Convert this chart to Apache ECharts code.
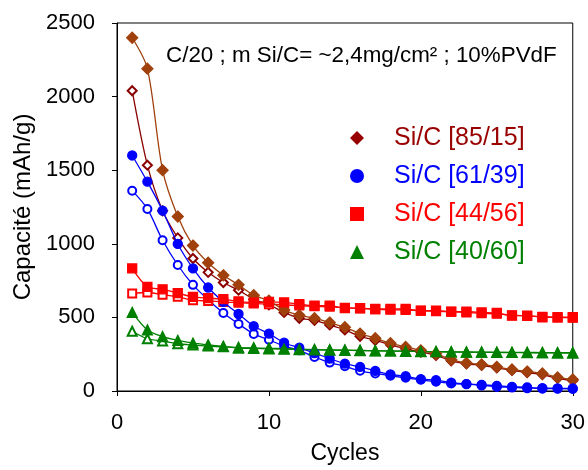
<!DOCTYPE html>
<html><head><meta charset="utf-8">
<script src="https://cdn.jsdelivr.net/npm/echarts@6/dist/echarts.min.js"></script>
<style>html,body{margin:0;padding:0;background:#fff}#c{width:588px;height:470px}</style>
</head><body><div id="c"></div>
<script>
var cycles = [1,2,3,4,5,6,7,8,9,10,11,12,13,14,15,16,17,18,19,20,21,22,23,24,25,26,27,28,29,30];
var sc8515Filled = [2400,2190,1500,1185,988,871,786,721,651,613,550,515,495,465,433,390,359,325,299,276,253,213,191,180,164,146,132,119,92,78];
var sc8515Open = [2040,1534,1224,1040,900,806,737,685,624,586,534,494,480,449,415,372,344,314,287,265,242,205,185,175,158,140,125,112,86,70];
var sc6139Filled = [1600,1422,1225,999,833,703,605,523,440,390,328,294,258,220,186,164,137,112,101,81,74,56,47,39,29,25,20,20,18,18];
var sc6139Open = [1361,1237,1024,856,721,620,530,456,388,348,305,276,231,193,168,137,119,103,90,76,63,51,47,42,36,29,25,16,16,13];
var sc4456Filled = [833,708,691,665,640,631,624,609,600,606,602,590,580,580,563,563,557,557,557,546,546,539,539,534,530,512,512,501,501,501];
var sc4456Open = [662,669,654,640,617,612,605,600,595,590,585,580,575,572,565,560,555,552,550,545,542,538,533,528,524,515,510,505,500,498];
var sc4060Filled = [534,415,370,344,325,314,303,292,290,287,285,282,280,278,277,275,273,272,270,268,267,266,265,264,263,262,262,261,260,260];
var sc4060Open = [406,355,339,321,312,305,300,295,292,290,287,284,281,279,277,275,273,271,270,268,267,265,264,263,262,261,260,260,259,258];
var legendNames = ['Si/C [85/15]','Si/C [61/39]','Si/C [44/56]','Si/C [40/60]'];
var titleText = 'C/20 ; m Si/C= ~2,4mg/cm\u00B2 ; 10%PVdF';
var xTicks = [0,10,20,30];
var yTicks = [0,500,1000,1500,2000,2500];

var FONT = 'Liberation Sans, Arial, sans-serif';
function pairs(vals){ return cycles.map(function(c,i){ return [c, vals[i]]; }); }
function mk(name, vals, color, symbol, size, z){
  return {name:name, type:'line', data:pairs(vals), smooth:0.3,
    symbol:symbol, symbolSize:size, showSymbol:true, z:z,
    lineStyle:{color:color, width:1.3},
    itemStyle:{color:color, borderColor:color, borderWidth:1.3},
    emphasis:{disabled:true}};
}
var chart = echarts.init(document.getElementById('c'), null, {renderer:'canvas'});
chart.setOption({
  animation:false,
  backgroundColor:'#fff',
  title:{text:titleText, left:161, top:40, textStyle:{fontFamily:FONT, fontSize:22.4, fontWeight:'normal', color:'#000'}},
  grid:{left:117, top:23, right:14, bottom:76, show:true, borderColor:'#000', borderWidth:1, backgroundColor:'transparent'},
  legend:{orient:'vertical', left:345, top:118, itemWidth:14, itemHeight:14, itemGap:8, selectedMode:false,
    formatter:function(n){ return '{s|}' + n; },
    textStyle:{fontFamily:FONT, fontSize:25, lineHeight:30, rich:{s:{width:25}}},
    data:[
      {name:legendNames[0], icon:'diamond', itemStyle:{color:'#990000', borderWidth:0}, textStyle:{color:'#990000'}},
      {name:legendNames[1], icon:'circle', itemStyle:{color:'#0000FF', borderWidth:0}, textStyle:{color:'#0000FF'}},
      {name:legendNames[2], icon:'rect', itemStyle:{color:'#FF0000', borderWidth:0}, textStyle:{color:'#FF0000'}},
      {name:legendNames[3], icon:'triangle', itemStyle:{color:'#008000', borderWidth:0}, textStyle:{color:'#008000'}}
    ]},
  xAxis:{type:'value', min:xTicks[0], max:xTicks[xTicks.length-1], interval:10,
    name:'Cycles', nameLocation:'middle', nameGap:51,
    nameTextStyle:{fontFamily:FONT, fontSize:23, color:'#000'},
    axisLine:{onZero:false, lineStyle:{color:'#000', width:1}},
    axisTick:{show:true, inside:false, length:5, lineStyle:{color:'#000'}},
    axisLabel:{fontFamily:FONT, fontSize:22, color:'#000', margin:21},
    splitLine:{show:false}},
  yAxis:{type:'value', min:yTicks[0], max:yTicks[yTicks.length-1], interval:500,
    name:'Capacit\u00E9 (mAh/g)', nameLocation:'middle', nameGap:82,
    nameTextStyle:{fontFamily:FONT, fontSize:24, color:'#000'},
    axisLine:{show:true, onZero:false, lineStyle:{color:'#000', width:1}},
    axisTick:{show:true, inside:false, length:5, lineStyle:{color:'#000'}},
    axisLabel:{fontFamily:FONT, fontSize:22, color:'#000', margin:22, formatter:function(v){ return String(v); }},
    splitLine:{show:false}},
  series:[
    mk('open8515', sc8515Open, '#8B0000', 'emptyDiamond', 9, 2),
    mk(legendNames[0], sc8515Filled, '#A0400C', 'diamond', 11, 3),
    mk('open6139', sc6139Open, '#0000FF', 'emptyCircle', 8, 2),
    mk(legendNames[1], sc6139Filled, '#0000FF', 'circle', 9, 3),
    mk('open4456', sc4456Open, '#FF0000', 'emptyRect', 8, 2),
    mk(legendNames[2], sc4456Filled, '#FF0000', 'rect', 9, 3),
    mk('open4060', sc4060Open, '#008000', 'emptyTriangle', 9, 2),
    mk(legendNames[3], sc4060Filled, '#008000', 'triangle', 10, 3)
  ]
});
</script></body></html>
